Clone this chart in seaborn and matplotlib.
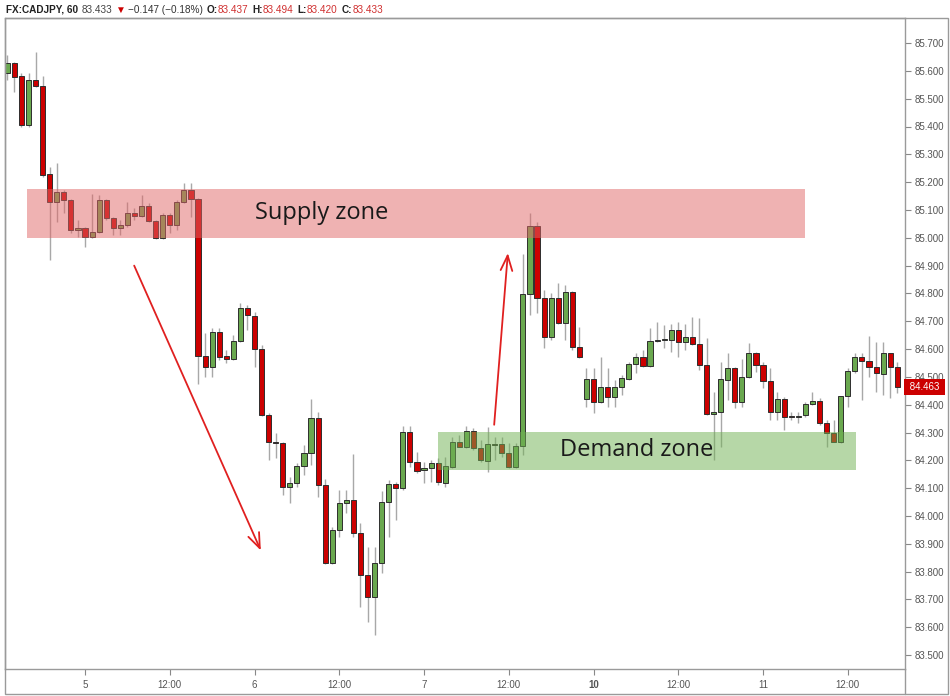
import matplotlib
matplotlib.use("Agg")
import matplotlib.pyplot as plt
from matplotlib.patches import Rectangle
from matplotlib.lines import Line2D
import seaborn as sns
import numpy as np

# hourly CADJPY candles (one per hour, weekend gap collapsed)
opens = [85.592, 85.627, 85.581, 85.405, 85.567, 85.545, 85.229, 85.129, 85.164, 85.136,
         85.028, 85.035, 85.003, 85.021, 85.136, 85.071, 85.035, 85.046, 85.089, 85.078,
         85.114, 85.060, 84.999, 85.081, 85.046, 85.129, 85.172, 85.139, 84.575, 84.536,
         84.661, 84.575, 84.564, 84.629, 84.748, 84.719, 84.600, 84.363, 84.266, 84.262,
         84.104, 84.118, 84.180, 84.226, 84.352, 84.111, 83.831, 83.950, 84.047, 84.057,
         83.939, 83.788, 83.709, 83.831, 84.050, 84.115, 84.100, 84.302, 84.194, 84.165,
         84.172, 84.190, 84.118, 84.176, 84.266, 84.248, 84.305, 84.244, 84.197, 84.259,
         84.259, 84.226, 84.176, 84.251, 84.798, 85.042, 84.783, 84.643, 84.783, 84.694,
         84.805, 84.607, 84.420, 84.492, 84.410, 84.464, 84.428, 84.464, 84.492, 84.546,
         84.571, 84.539, 84.629, 84.632, 84.632, 84.668, 84.625, 84.643, 84.618, 84.543,
         84.367, 84.374, 84.489, 84.532, 84.410, 84.499, 84.586, 84.543, 84.485, 84.374,
         84.420, 84.359, 84.356, 84.363, 84.402, 84.413, 84.334, 84.298, 84.266, 84.431,
         84.521, 84.571, 84.557, 84.536, 84.510, 84.586, 84.536]
highs = [85.657, 85.632, 85.592, 85.592, 85.668, 85.581, 85.254, 85.269, 85.172, 85.140,
         85.064, 85.040, 85.157, 85.154, 85.140, 85.075, 85.064, 85.129, 85.107, 85.154,
         85.125, 85.064, 85.089, 85.089, 85.136, 85.197, 85.197, 85.142, 84.658, 84.676,
         84.676, 84.597, 84.650, 84.765, 84.758, 84.733, 84.614, 84.370, 84.298, 84.265,
         84.140, 84.190, 84.255, 84.420, 84.374, 84.133, 83.960, 84.093, 84.093, 84.223,
         83.975, 83.888, 83.888, 84.090, 84.129, 84.122, 84.323, 84.323, 84.230, 84.194,
         84.201, 84.208, 84.212, 84.284, 84.291, 84.323, 84.316, 84.273, 84.320, 84.284,
         84.284, 84.262, 84.262, 84.942, 85.089, 85.057, 84.812, 84.801, 84.837, 84.830,
         84.808, 84.679, 84.532, 84.532, 84.571, 84.532, 84.489, 84.507, 84.554, 84.586,
         84.597, 84.676, 84.697, 84.686, 84.690, 84.697, 84.690, 84.715, 84.712, 84.640,
         84.446, 84.554, 84.586, 84.536, 84.564, 84.622, 84.589, 84.554, 84.532, 84.446,
         84.428, 84.374, 84.374, 84.410, 84.446, 84.424, 84.345, 84.345, 84.431, 84.532,
         84.586, 84.586, 84.647, 84.625, 84.625, 84.586, 84.554]
lows = [85.567, 85.524, 85.400, 85.398, 85.542, 85.218, 84.920, 85.057, 85.089, 85.017,
        85.003, 84.967, 84.999, 85.017, 85.064, 85.010, 85.010, 85.039, 85.064, 85.075,
        85.057, 84.996, 84.996, 85.017, 85.028, 85.125, 85.075, 84.474, 84.499, 84.499,
        84.561, 84.550, 84.561, 84.625, 84.668, 84.536, 84.360, 84.201, 84.208, 84.075,
        84.047, 84.104, 84.147, 84.183, 84.068, 83.829, 83.829, 83.924, 84.011, 83.924,
        83.673, 83.619, 83.572, 83.795, 83.924, 83.985, 84.093, 84.176, 84.154, 84.118,
        84.122, 84.111, 84.104, 84.172, 84.248, 84.244, 84.237, 84.194, 84.158, 84.201,
        84.212, 84.172, 84.172, 84.219, 84.722, 84.730, 84.604, 84.632, 84.690, 84.632,
        84.597, 84.568, 84.392, 84.370, 84.405, 84.392, 84.392, 84.435, 84.489, 84.514,
        84.536, 84.536, 84.625, 84.604, 84.589, 84.571, 84.597, 84.614, 84.525, 84.363,
        84.201, 84.248, 84.417, 84.388, 84.392, 84.496, 84.518, 84.460, 84.345, 84.345,
        84.309, 84.345, 84.334, 84.356, 84.399, 84.327, 84.248, 84.266, 84.262, 84.392,
        84.514, 84.417, 84.499, 84.446, 84.435, 84.424, 84.442]
closes = [85.628, 85.579, 85.405, 85.567, 85.545, 85.225, 85.129, 85.164, 85.136, 85.028,
          85.035, 85.003, 85.021, 85.136, 85.071, 85.035, 85.046, 85.089, 85.078, 85.114,
          85.060, 84.999, 85.081, 85.046, 85.129, 85.172, 85.139, 84.575, 84.536, 84.661,
          84.571, 84.564, 84.629, 84.748, 84.722, 84.600, 84.363, 84.266, 84.262, 84.104,
          84.118, 84.180, 84.226, 84.352, 84.111, 83.831, 83.950, 84.047, 84.057, 83.939,
          83.788, 83.709, 83.831, 84.050, 84.115, 84.100, 84.302, 84.194, 84.162, 84.172,
          84.190, 84.122, 84.180, 84.266, 84.248, 84.305, 84.244, 84.201, 84.259, 84.255,
          84.226, 84.176, 84.251, 84.798, 85.042, 84.783, 84.643, 84.783, 84.694, 84.805,
          84.607, 84.571, 84.492, 84.410, 84.464, 84.428, 84.464, 84.496, 84.546, 84.571,
          84.539, 84.629, 84.632, 84.632, 84.668, 84.625, 84.643, 84.618, 84.543, 84.367,
          84.374, 84.492, 84.532, 84.410, 84.499, 84.586, 84.543, 84.485, 84.374, 84.420,
          84.356, 84.356, 84.359, 84.402, 84.413, 84.334, 84.298, 84.266, 84.431, 84.521,
          84.571, 84.557, 84.536, 84.514, 84.586, 84.536, 84.463]

tick_pos = [11, 23, 35, 47, 59, 71, 83, 95, 107, 119]
tick_labels = ["5", "12:00", "6", "12:00", "7", "12:00", "10", "12:00", "11", "12:00"]
price_ticks = np.round(np.arange(83.5, 85.75, 0.1), 1)

# zones: (first bar, last bar, low, high)
supply = (2.8, 112.9, 85.000, 85.175)
demand = (60.95, 120.1, 84.165, 84.302)
# arrows: (x0, y0, x1, y1) in bar index / price
arrow_down = (17.8, 84.909, 36.05, 83.867)
arrow_up = (68.9, 84.318, 70.9, 84.955)
last_price = "84.463"

sns.set_theme(style="white")
plt.rcParams['font.family'] = ['Liberation Sans', 'DejaVu Sans']

fig = plt.figure(figsize=(9.5, 6.96), dpi=100)
ax = fig.add_axes([5/950, 27/696, 900/950, 651/696])

green = '#6aa84f'
red = '#cc0000'
idx = np.arange(len(opens))
o = np.array(opens); c = np.array(closes)
up = c >= o
ax.vlines(idx, lows, highs, color='#a8a8a8', lw=1, zorder=1)
body_low = np.minimum(o, c)
body_h = np.maximum(np.abs(c - o), 0.0025)
ax.bar(idx, body_h, bottom=body_low, width=0.72,
       color=np.where(up, green, red), edgecolor='#2e2e2e', linewidth=0.7, zorder=2)

# zones drawn on top, semi transparent
for (x0, x1, lo, hi), col in [(supply, '#e06666'), (demand, '#6fb051')]:
    ax.add_patch(Rectangle((x0, lo), x1 - x0, hi - lo, facecolor=col,
                           alpha=0.5, edgecolor='none', zorder=3))

ax.text(35.1, 85.089, "Supply zone", fontsize=17, family='Open Sans',
        color='#1a1a1a', va='center', ha='left', zorder=4)
ax.text(78.2, 84.238, "Demand zone", fontsize=17, family='Open Sans',
        color='#1a1a1a', va='center', ha='left', zorder=4)

for x0, y0, x1, y1 in [arrow_down, arrow_up]:
    ax.annotate("", xy=(x1, y1), xytext=(x0, y0),
                arrowprops=dict(arrowstyle='->,head_length=0.9,head_width=0.35',
                                color='#e02020', lw=1.3), zorder=4)

ax.set_xlim(-0.33, 127.1)
ax.set_ylim(83.45, 85.79)
ax.yaxis.tick_right()
ax.set_yticks(price_ticks)
ax.set_yticklabels([f"{v:.3f}" for v in price_ticks])
ax.set_xticks(tick_pos)
ax.set_xticklabels(tick_labels)
ax.get_xticklabels()[6].set_fontweight('bold')
ax.tick_params(axis='y', direction='out', length=4, width=0.8, color='#888888',
               labelsize=7, labelcolor='#555555', pad=3, right=True, left=False)
ax.tick_params(axis='x', direction='out', length=4, width=0.8, color='#888888',
               labelsize=7, labelcolor='#555555', pad=4, bottom=True)
for s in ax.spines.values():
    s.set_color('#9a9a9a')
    s.set_linewidth(1)
ax.grid(False)

# last price marker
ax.text(1.002, 84.463, " " + last_price + " ", transform=ax.get_yaxis_transform(),
        fontsize=7, color='white', va='center', ha='left', zorder=5, clip_on=False,
        bbox=dict(boxstyle='square,pad=0.3', fc=red, ec='none'))

# outer frame of the chart panel
frame = Rectangle((5/950, 2/696), 943/950, 676/696, transform=fig.transFigure,
                  fill=False, edgecolor='#9a9a9a', lw=1)
fig.add_artist(frame)
fig.add_artist(Line2D([905/950, 905/950], [2/696, 27/696], transform=fig.transFigure,
                      color='#9a9a9a', lw=1))

# header line, laid out piece after piece
header = [("FX:CADJPY, 60", '#222222', 'bold', 4), ("83.433", '#444444', 'normal', 3),
          ("\u25bc", '#cc0000', 'normal', 2), ("\u22120.147 (\u22120.18%)", '#333333', 'normal', 4),
          ("O:", '#222222', 'bold', 0), ("83.437", '#d03030', 'normal', 4),
          ("H:", '#222222', 'bold', 0), ("83.494", '#d03030', 'normal', 4),
          ("L:", '#222222', 'bold', 0), ("83.420", '#d03030', 'normal', 4),
          ("C:", '#222222', 'bold', 0), ("83.433", '#d03030', 'normal', 0)]
renderer = fig.canvas.get_renderer()
xp = 6
for txt, col, wt, gap in header:
    t = fig.text(xp/950, 1 - 10/696, txt, color=col, fontweight=wt, fontsize=7.2,
                 va='center', ha='left', family=['Liberation Sans', 'DejaVu Sans'])
    xp += t.get_window_extent(renderer).width + gap

fig.savefig("out.png", dpi=100)
